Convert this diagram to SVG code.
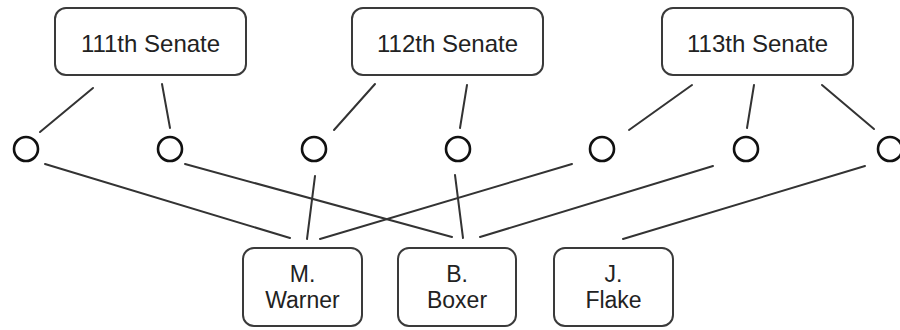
<svg xmlns="http://www.w3.org/2000/svg" width="900" height="330" viewBox="0 0 900 330">
<style>
.box{fill:#fff;stroke:#3a3a3a;stroke-width:2}
.dot{fill:#fff;stroke:#111;stroke-width:2.6}
.lbl{font-family:"Liberation Sans",Arial,sans-serif;fill:#222;text-anchor:middle}
.t{font-size:24px}
.b{font-size:23px}
#connectors line{stroke:#333;stroke-width:2;stroke-linecap:round}
</style>
<rect width="900" height="330" fill="#fff"/>
<g id="connectors">
<line x1="93" y1="88" x2="40" y2="132"/>
<line x1="162" y1="84" x2="170" y2="128"/>
<line x1="375" y1="84" x2="334" y2="130"/>
<line x1="467" y1="85" x2="460" y2="128"/>
<line x1="692" y1="85" x2="629" y2="130"/>
<line x1="754" y1="85" x2="747" y2="128"/>
<line x1="822" y1="85" x2="874" y2="129"/>
<line x1="45" y1="164" x2="290" y2="238"/>
<line x1="185" y1="164" x2="452" y2="237"/>
<line x1="315" y1="176" x2="307" y2="239"/>
<line x1="455" y1="175" x2="463" y2="238"/>
<line x1="572" y1="164" x2="320" y2="239"/>
<line x1="713" y1="166" x2="480" y2="237"/>
<line x1="865" y1="166" x2="623" y2="239"/>
</g>
<g id="s111"><rect class="box" x="55" y="8" width="191" height="67" rx="11"/><text class="lbl t" x="150.5" y="52">111th Senate</text></g>
<g id="s112"><rect class="box" x="352" y="8" width="191" height="67" rx="11"/><text class="lbl t" x="447.5" y="52">112th Senate</text></g>
<g id="s113"><rect class="box" x="662" y="8" width="191" height="67" rx="11"/><text class="lbl t" x="757.5" y="52">113th Senate</text></g>
<g id="c1"><circle class="dot" cx="26" cy="149" r="12"/></g>
<g id="c2"><circle class="dot" cx="170" cy="149" r="12"/></g>
<g id="c3"><circle class="dot" cx="314" cy="149" r="12"/></g>
<g id="c4"><circle class="dot" cx="458" cy="149" r="12"/></g>
<g id="c5"><circle class="dot" cx="602" cy="149" r="12"/></g>
<g id="c6"><circle class="dot" cx="746" cy="149" r="12"/></g>
<g id="c7"><circle class="dot" cx="890" cy="149" r="12"/></g>
<g id="warner"><rect class="box" x="243" y="248" width="119" height="78" rx="11"/><text class="lbl b" x="302.5" y="282">M.</text><text class="lbl b" x="302.5" y="308">Warner</text></g>
<g id="boxer"><rect class="box" x="398" y="248" width="118" height="78" rx="11"/><text class="lbl b" x="457" y="282">B.</text><text class="lbl b" x="457" y="308">Boxer</text></g>
<g id="flake"><rect class="box" x="554" y="248" width="119" height="78" rx="11"/><text class="lbl b" x="613.5" y="282">J.</text><text class="lbl b" x="613.5" y="308">Flake</text></g>
</svg>
